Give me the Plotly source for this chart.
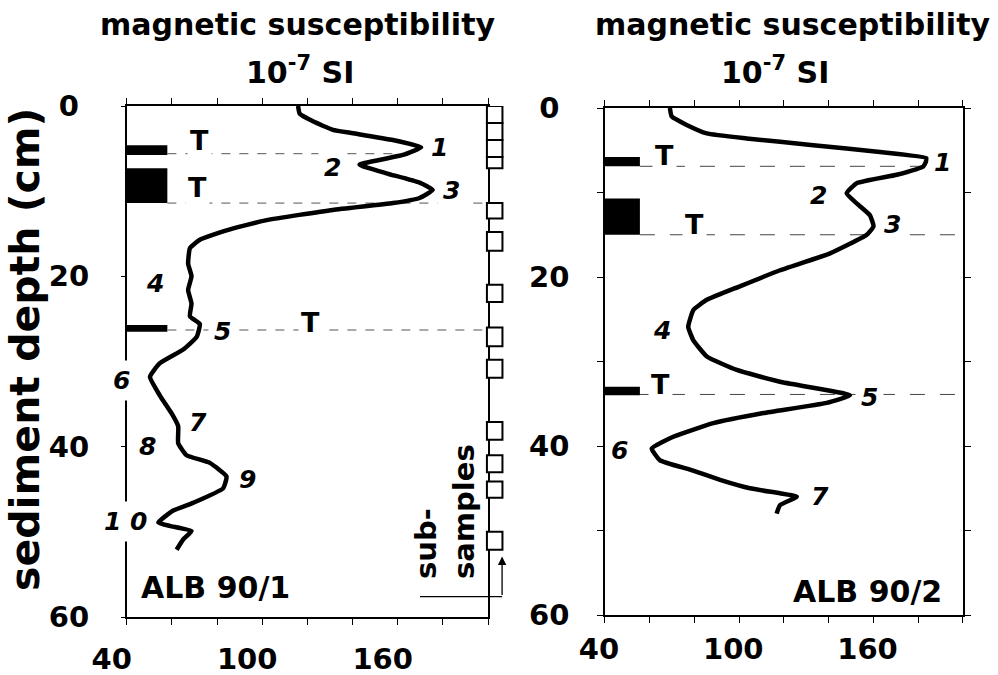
import plotly.graph_objects as go

# ---------------- data ----------------
# Core ALB 90/1 : magnetic susceptibility (10^-7 SI) vs sediment depth (cm)
sus_1 = [115.9, 116.6, 122.5, 131.3, 140.2, 157.9, 170.4, 162.3, 143.1, 155.0, 169.7, 175.5,
         169.7, 157.9, 131.3, 101.9, 84.2, 72.4, 68.0, 67.2, 68.7, 67.2, 68.7, 68.0, 72.4,
         71.0, 65.0, 54.7, 50.3, 54.7, 59.9, 62.8, 62.8, 66.5, 76.8, 84.2, 82.7, 69.4, 60.6,
         54.0, 59.1, 68.7, 65.0, 62.1]
depth_1 = [0.0, 0.9, 1.8, 2.8, 3.2, 4.0, 4.85, 5.75, 6.9, 7.9, 9.0, 9.85,
           10.8, 11.4, 12.2, 13.4, 14.6, 15.7, 16.7, 18.5, 20.0, 21.6, 23.2, 24.7, 25.6,
           27.1, 28.6, 30.2, 31.8, 34.0, 36.1, 37.6, 39.6, 41.0, 41.9, 43.5, 44.9, 46.6, 47.5,
           48.9, 49.3, 49.9, 50.9, 52.1]

# Core ALB 90/2
sus_2 = [69.0, 69.8, 76.5, 85.5, 103.3, 133.1, 162.9, 183.8, 182.3, 170.4, 152.5, 148.0,
         152.5, 158.4, 160.0, 157.0, 140.6, 118.2, 100.3, 85.5, 79.5, 77.2, 79.5, 85.5, 98.9,
         118.2, 149.5, 139.1, 110.8, 88.4, 70.5, 60.9, 64.6, 78.0, 91.4, 104.8, 118.2, 125.7,
         118.2, 116.7]
depth_2 = [0.0, 1.0, 2.0, 3.0, 3.6, 4.4, 5.2, 5.95, 6.9, 7.9, 8.9, 10.1,
           11.3, 12.7, 14.0, 15.0, 17.2, 19.2, 21.1, 22.7, 23.9, 25.9, 27.5, 29.4, 31.0,
           32.4, 34.0, 34.9, 36.1, 37.3, 38.9, 40.3, 41.7, 42.8, 44.0, 45.0, 45.6, 46.0,
           47.0, 48.0]

# Tephra layers (T): top / bottom depth of black bars, and marker line depth + line end
teph1_top = [4.6, 7.3, 25.7]
teph1_bot = [5.75, 11.4, 26.5]
teph1_line = [5.6, 11.4, 26.3]
teph1_line_end = [166.0, 198.0, 200.0]
teph1_T_x = [72.4, 71.5, 121.5]
teph1_T_y = [4.1, 9.6, 25.4]

teph2_top = [5.8, 10.7, 33.0]
teph2_bot = [6.9, 15.0, 34.0]
teph2_line = [6.9, 15.0, 33.9]
teph2_line_end = [183.0, 200.0, 200.0]
teph2_T_x = [66.8, 80.2, 65.0]
teph2_T_y = [5.6, 13.8, 32.7]
bar_right_1 = 58.0
bar_right_2 = 55.6

# Numbered features
num1_text = ["1", "2", "3", "4", "5", "6", "7", "8", "9", "1 0"]
num1_x = [178.5, 131.2, 183.8, 52.5, 82.6, 37.9, 71.5, 49.0, 93.6, 39.7]
num1_y = [4.9, 7.2, 9.9, 20.8, 26.5, 32.2, 37.2, 40.0, 43.9, 48.8]

num2_text = ["1", "2", "3", "4", "5", "6", "7"]
num2_x = [191.0, 135.2, 168.7, 65.5, 158.4, 46.7, 136.1]
num2_y = [6.4, 10.3, 13.8, 26.3, 34.3, 40.5, 46.0]

# Sub-sample intervals (cm) for ALB 90/1
sub_top = [0.0, 2.0, 4.0, 6.0, 11.4, 14.8, 21.0, 26.0, 29.8, 37.1, 41.0, 44.1, 50.0]
sub_bot = [2.0, 4.0, 6.0, 7.3, 13.2, 17.0, 23.0, 28.2, 31.9, 39.2, 43.0, 46.0, 52.1]

X_MIN, X_MAX = 40, 200
x_tickvals = [40, 60, 80, 100, 120, 140, 160, 180, 200]
x_ticktext = ["40", "", "", "100", "", "", "160", "", ""]
y1_tickvals = [0, 20, 40, 60]
y1_ticktext = ["0\u00a0", "20", "40", "60"]
y2_tickvals = [0, 10, 20, 30, 40, 50, 60]
y2_ticktext = ["0\u00a0", "", "20", "", "40", "", "60"]

FONT = "DejaVu Sans"
W, H = 998, 675

fig = go.Figure()

fig.add_trace(go.Scatter(x=sus_1, y=depth_1, mode="lines", xaxis="x", yaxis="y",
                         line=dict(color="black", width=4.5, shape="spline", smoothing=0.4),
                         showlegend=False, hoverinfo="skip"))
fig.add_trace(go.Scatter(x=sus_2, y=depth_2, mode="lines", xaxis="x2", yaxis="y2",
                         line=dict(color="black", width=4.5, shape="spline", smoothing=0.4),
                         showlegend=False, hoverinfo="skip"))

shapes = []
for t, b, ld, le in zip(teph1_top, teph1_bot, teph1_line, teph1_line_end):
    shapes.append(dict(type="rect", xref="x", yref="y", x0=X_MIN, x1=bar_right_1, y0=t, y1=b,
                       fillcolor="black", line=dict(width=0), layer="below"))
    shapes.append(dict(type="line", xref="x", yref="y", x0=bar_right_1, x1=le, y0=ld, y1=ld,
                       line=dict(color="#555", width=1, dash="dash"), layer="below"))
for t, b, ld, le in zip(teph2_top, teph2_bot, teph2_line, teph2_line_end):
    shapes.append(dict(type="rect", xref="x2", yref="y2", x0=X_MIN, x1=bar_right_2, y0=t, y1=b,
                       fillcolor="black", line=dict(width=0), layer="below"))
    shapes.append(dict(type="line", xref="x2", yref="y2", x0=bar_right_2, x1=le, y0=ld, y1=ld,
                       line=dict(color="#444", width=1, dash="longdash"), layer="below"))
for t, b in zip(sub_top, sub_bot):
    shapes.append(dict(type="rect", xref="x domain", yref="y", x0=0.997, x1=1.04, y0=t, y1=b,
                       fillcolor="white", line=dict(color="black", width=2)))
shapes.append(dict(type="line", xref="x domain", yref="y", x0=0.812, x1=1.039, y0=57.6, y1=57.6,
                   line=dict(color="black", width=1.2)))

ann = []
def txt(text, x, y, xref, yref, size, bold=True, italic=False, bg=None, pad=1,
        xanchor="center", yanchor="middle", **kw):
    d = dict(text=text, x=x, y=y, xref=xref, yref=yref, showarrow=False,
             xanchor=xanchor, yanchor=yanchor,
             font=dict(family=FONT, size=size, color="black",
                       weight="bold" if bold else "normal",
                       style="italic" if italic else "normal"))
    if bg:
        d["bgcolor"] = bg
        d["borderpad"] = pad
    d.update(kw)
    ann.append(d)

# titles
for cx in (297, 792):
    txt("magnetic susceptibility", cx / W, 1 - 24 / H, "paper", "paper", 30)
for cx in (300, 775):
    txt("10<sup>-7</sup> SI", cx / W, 1 - 70 / H, "paper", "paper", 30)
txt("sediment depth (cm)", 25 / W, 1 - 350 / H, "paper", "paper", 41, textangle=-90)

# numbered features (values outside the x range are placed via domain fraction)
def xdom(v):
    return (v - X_MIN) / (X_MAX - X_MIN)

for t, x, y in zip(num1_text, num1_x, num1_y):
    txt(t, xdom(x), y, "x domain", "y", 25, italic=True, bg="white", pad=5)
for t, x, y in zip(num2_text, num2_x, num2_y):
    txt(t, xdom(x), y, "x2 domain", "y2", 25, italic=True, bg="white", pad=5)
for x, y in zip(teph1_T_x, teph1_T_y):
    txt("T", x, y, "x", "y", 27, bg="white", pad=2)
for x, y in zip(teph2_T_x, teph2_T_y):
    txt("T", x, y, "x2", "y2", 27, bg="white", pad=2)

txt("ALB 90/1", 45.5, 56.5, "x", "y", 30, xanchor="left")
txt("ALB 90/2", 191.5, 57.2, "x2", "y2", 30, xanchor="right")
txt("sub-<br>samples", 445 / W, 1 - 512 / H, "paper", "paper", 29, textangle=-90, align="left")
ann.append(dict(text="", x=1.039, y=52.9, xref="x domain", yref="y", showarrow=True,
                ax=0, ay=40, arrowhead=2, arrowsize=1.3, arrowwidth=1.3, arrowcolor="black"))

xaxis_common = dict(range=[X_MIN, X_MAX], tickvals=x_tickvals, ticktext=x_ticktext,
                    showline=True, linecolor="black", linewidth=1.5, mirror="ticks",
                    ticks="outside", ticklen=6, tickwidth=1.2, tickcolor="black",
                    showgrid=False, zeroline=False, automargin=False,
                    tickfont=dict(family=FONT, size=29, color="black", weight="bold"))

fig.update_layout(
    width=W, height=H, margin=dict(l=0, r=0, t=0, b=0),
    paper_bgcolor="white", plot_bgcolor="white", template="none",
    xaxis=dict(domain=[0.12695, 0.48898], anchor="y", ticklabelshift=-15,
               ticklabelstandoff=9, **xaxis_common),
    xaxis2=dict(domain=[0.60621, 0.96493], anchor="y2", ticklabelshift=-6,
                ticklabelstandoff=1, **xaxis_common),
    yaxis=dict(domain=[0.08593, 0.84296], anchor="x", range=[60, 0],
               tickvals=y1_tickvals, ticktext=y1_ticktext,
               showline=True, linecolor="black", linewidth=1.5, mirror=True,
               ticks="outside", ticklen=4, tickwidth=1.2, tickcolor="black",
               ticklabelstandoff=26,
               showgrid=False, zeroline=False, automargin=False,
               tickfont=dict(family=FONT, size=29, color="black", weight="bold")),
    yaxis2=dict(domain=[0.08889, 0.84], anchor="x2", range=[60, 0],
                tickvals=y2_tickvals, ticktext=y2_ticktext,
                showline=True, linecolor="black", linewidth=1.5, mirror="ticks",
                ticks="outside", ticklen=6, tickwidth=1.2, tickcolor="black",
                ticklabelstandoff=22,
                showgrid=False, zeroline=False, automargin=False,
                tickfont=dict(family=FONT, size=29, color="black", weight="bold")),
    shapes=shapes, annotations=ann,
)

fig.write_html("out.html")
